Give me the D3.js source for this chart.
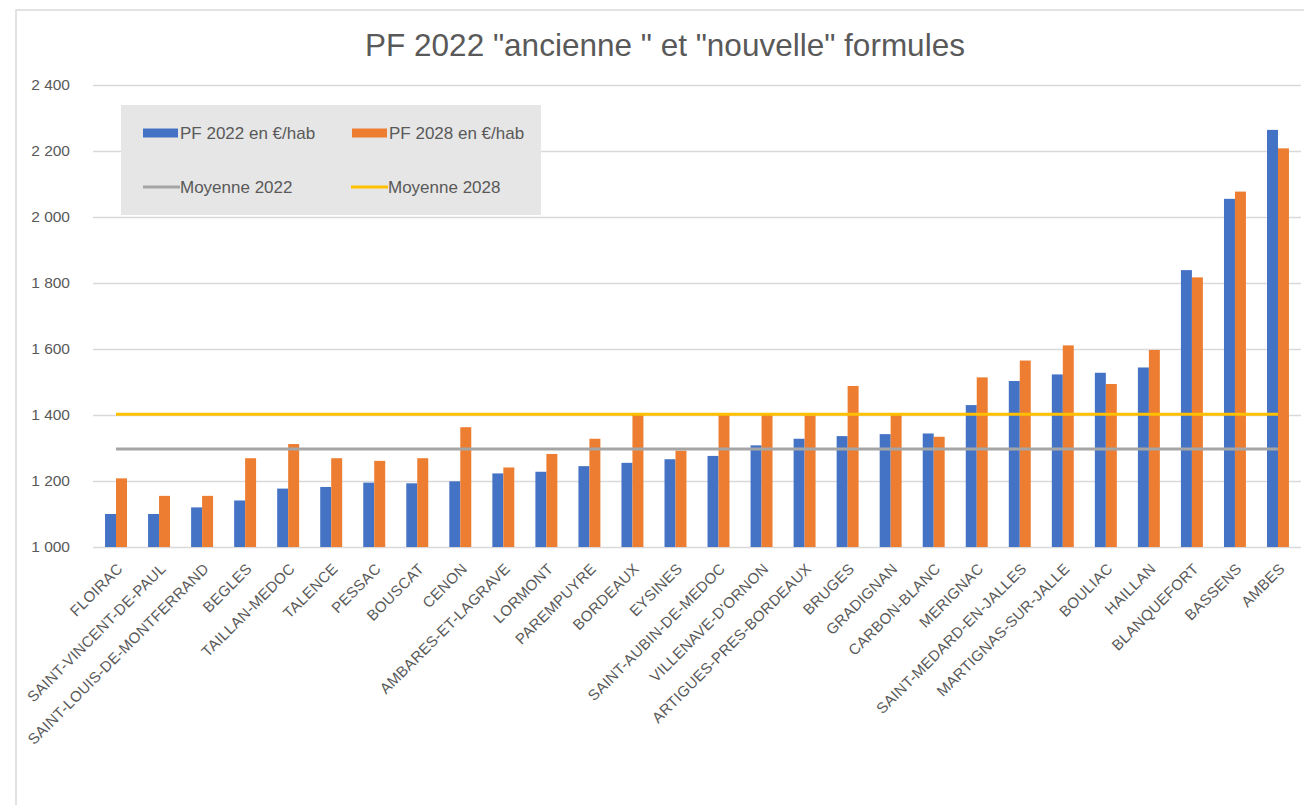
<!DOCTYPE html>
<html>
<head>
<meta charset="utf-8">
<script src="https://cdn.jsdelivr.net/npm/d3@7"></script>
<style>
  html, body { margin: 0; padding: 0; background: #ffffff; }
  svg { display: block; font-family: "Liberation Sans", Arial, sans-serif; }
</style>
</head>
<body>
<svg id="chart" width="1304" height="805"></svg>
<script>
const categories = ["FLOIRAC","SAINT-VINCENT-DE-PAUL","SAINT-LOUIS-DE-MONTFERRAND","BEGLES","TAILLAN-MEDOC","TALENCE","PESSAC","BOUSCAT","CENON","AMBARES-ET-LAGRAVE","LORMONT","PAREMPUYRE","BORDEAUX","EYSINES","SAINT-AUBIN-DE-MEDOC","VILLENAVE-D'ORNON","ARTIGUES-PRES-BORDEAUX","BRUGES","GRADIGNAN","CARBON-BLANC","MERIGNAC","SAINT-MEDARD-EN-JALLES","MARTIGNAS-SUR-JALLE","BOULIAC","HAILLAN","BLANQUEFORT","BASSENS","AMBES"];
const pf2022 = [1100,1100,1120,1141,1177,1182,1195,1193,1199,1223,1228,1245,1255,1266,1276,1308,1328,1336,1342,1344,1430,1503,1523,1528,1544,1839,2055,2264];
const pf2028 = [1208,1155,1155,1269,1312,1269,1261,1269,1363,1241,1282,1328,1400,1292,1400,1400,1399,1488,1400,1334,1514,1565,1611,1494,1597,1817,2077,2208];
const moyenne2022 = 1297;
const moyenne2028 = 1402;
const yTicks = [1000,1200,1400,1600,1800,2000,2200,2400];
const seriesNames = ["PF 2022 en €/hab","PF 2028 en €/hab"];
const lineNames = ["Moyenne 2022","Moyenne 2028"];
const titleText = 'PF 2022 "ancienne " et "nouvelle" formules';

const colors = { b2022: "#4472c4", b2028: "#ed7d31", m2022: "#a5a5a5", m2028: "#ffc000" };
const textColor = "#595959";

const svg = d3.select("#chart");
const plot = { left: 94.5, right: 1299.5, top: 85, bottom: 547 };

// chart frame
svg.append("rect").attr("x", 16).attr("y", 10).attr("width", 1310).attr("height", 820)
  .attr("fill", "#ffffff").attr("stroke", "#d9d9d9").attr("stroke-width", 1.5);

const x = d3.scaleBand().domain(categories).range([plot.left, plot.right])
  .paddingInner(0.49).paddingOuter(0.245);
const xs = d3.scaleBand().domain(["a","b"]).range([0, x.bandwidth()]);
const y = d3.scaleLinear().domain([1000, 2400]).range([plot.bottom, plot.top]);

const fmt = d3.formatLocale({ decimal: ",", thousands: " ", grouping: [3], currency: ["", "€"] }).format(",");

// gridlines
const yAxis = d3.axisLeft(y).tickValues(yTicks).tickSize(-(1301 - 93)).tickFormat(fmt).tickPadding(23);
const gy = svg.append("g").attr("transform", "translate(93,0)").call(yAxis);
gy.select(".domain").remove();
gy.selectAll(".tick line").attr("stroke", "#d9d9d9").attr("stroke-width", 1.5);
gy.selectAll(".tick text").attr("fill", textColor).attr("font-size", 15.5)
  .style("font-family", '"Liberation Sans", Arial, sans-serif');

// bars
const groups = svg.append("g").selectAll("g").data(categories).join("g")
  .attr("transform", d => `translate(${x(d)},0)`);
groups.append("rect")
  .attr("x", xs("a")).attr("width", xs.bandwidth())
  .attr("y", (d, i) => y(pf2022[i])).attr("height", (d, i) => y(1000) - y(pf2022[i]))
  .attr("fill", colors.b2022);
groups.append("rect")
  .attr("x", xs("b")).attr("width", xs.bandwidth())
  .attr("y", (d, i) => y(pf2028[i])).attr("height", (d, i) => y(1000) - y(pf2028[i]))
  .attr("fill", colors.b2028);

// mean lines (from first to last category centre)
const cx = d => x(d) + x.bandwidth() / 2;
const line = d3.line().x(d => cx(d[0])).y(d => y(d[1]));
svg.append("path").datum(categories.map(c => [c, moyenne2022])).attr("d", line)
  .attr("fill", "none").attr("stroke", colors.m2022).attr("stroke-width", 3);
svg.append("path").datum(categories.map(c => [c, moyenne2028])).attr("d", line)
  .attr("fill", "none").attr("stroke", colors.m2028).attr("stroke-width", 3);

// x labels
const gx = svg.append("g");
gx.selectAll("text").data(categories).join("text")
  .attr("transform", d => `translate(${cx(d) + 4},566) rotate(-45)`)
  .attr("text-anchor", "end").attr("dy", "0.35em")
  .attr("fill", textColor).attr("font-size", 15).attr("letter-spacing", 0.3)
  .text(d => d);

// title
svg.append("text").attr("x", 665).attr("y", 56).attr("text-anchor", "middle")
  .attr("fill", textColor).attr("font-size", 31.5).text(titleText);

// legend
const lg = svg.append("g");
lg.append("rect").attr("x", 121).attr("y", 105).attr("width", 420).attr("height", 110).attr("fill", "#e6e6e6");
const legendItems = [
  { name: seriesNames[0], color: colors.b2022, type: "rect", x: 143, y: 133 },
  { name: seriesNames[1], color: colors.b2028, type: "rect", x: 352, y: 133 },
  { name: lineNames[0], color: colors.m2022, type: "line", x: 143, y: 187 },
  { name: lineNames[1], color: colors.m2028, type: "line", x: 351, y: 187 }
];
legendItems.forEach(it => {
  if (it.type === "rect") {
    lg.append("rect").attr("x", it.x).attr("y", it.y - 4.5).attr("width", 35).attr("height", 9).attr("fill", it.color);
  } else {
    lg.append("line").attr("x1", it.x).attr("x2", it.x + 37).attr("y1", it.y).attr("y2", it.y)
      .attr("stroke", it.color).attr("stroke-width", 3);
  }
  lg.append("text").attr("x", it.x + 37).attr("y", it.y).attr("dy", "0.35em")
    .attr("fill", textColor).attr("font-size", 17).text(it.name);
});
</script>
</body>
</html>
